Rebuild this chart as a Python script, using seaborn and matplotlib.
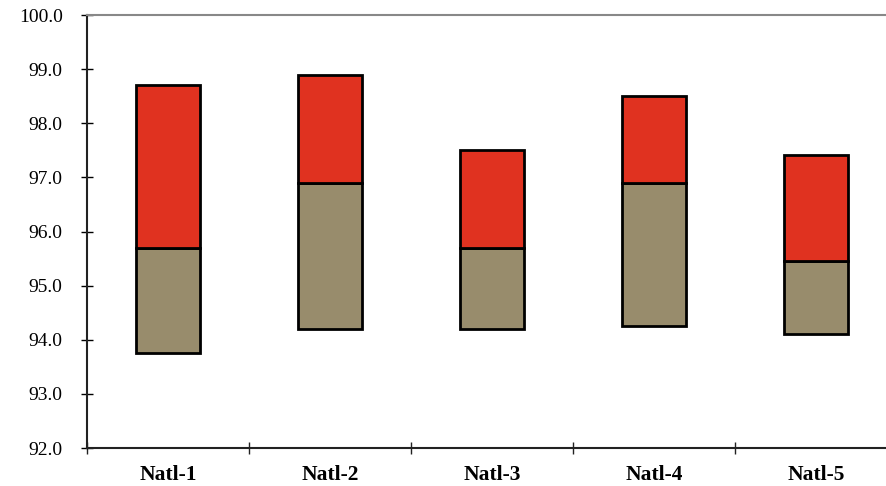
import matplotlib
matplotlib.use("Agg")
import matplotlib.pyplot as plt
import seaborn as sns
import numpy as np

# ─── Veri ────────────────────────────────────────────────────────────────────
categories = ["Natl-1", "Natl-2", "Natl-3", "Natl-4", "Natl-5"]
low_vals   = [93.75, 94.2, 94.2, 94.25, 94.1]
mid_vals   = [95.7, 96.9, 95.7, 96.9, 95.45]
high_vals  = [98.7, 98.9, 97.5, 98.5, 97.42]
y_ticks    = [92.0, 93.0, 94.0, 95.0, 96.0, 97.0, 98.0, 99.0, 100.0]

RED = "#E03220"
TAN = "#988C6C"

sns.set_style("white")
plt.rcParams["font.family"] = ["Liberation Serif", "DejaVu Serif"]

fig = plt.figure(figsize=(8.86, 4.86), dpi=100)
ax = fig.add_axes([87 / 886, 38 / 486, 810 / 886, 433 / 486])

low = np.array(low_vals)
mid = np.array(mid_vals)
high = np.array(high_vals)

# alt kisim (tan) ve ust kisim (kirmizi)
sns.barplot(x=categories, y=mid - low, bottom=low, color=TAN, width=0.4,
            edgecolor="black", linewidth=2, saturation=1, ax=ax)
sns.barplot(x=categories, y=high - mid, bottom=mid, color=RED, width=0.4,
            edgecolor="black", linewidth=2, saturation=1, ax=ax)

ax.set_ylim(92, 100)
ax.set_xlim(-0.5, 4.5)
ax.set_yticks(y_ticks)
ax.set_yticklabels([f"{v:.1f}" for v in y_ticks], fontsize=14, color="black")

ax.set_xticks(range(len(categories)))
ax.set_xticklabels(categories, fontsize=15.5, fontweight="bold", color="black")
ax.set_xticks(np.arange(-0.5, 5.0, 1.0), minor=True)
ax.tick_params(axis="x", which="both", bottom=True)
ax.tick_params(axis="y", which="both", left=True)
ax.tick_params(axis="x", which="major", length=0, pad=12)
ax.tick_params(axis="x", which="minor", length=9, direction="inout", width=1, color="#222222")
ax.tick_params(axis="y", length=9, direction="inout", width=1, color="black", pad=13)
ax.set_xlabel("")
ax.set_ylabel("")

for side in ["left", "bottom"]:
    ax.spines[side].set_color("#222222")
    ax.spines[side].set_linewidth(1.5)
ax.spines["top"].set_color("#888888")
ax.spines["top"].set_linewidth(1.5)
ax.spines["right"].set_visible(False)

fig.savefig("out.png", dpi=100)
plt.close(fig)
